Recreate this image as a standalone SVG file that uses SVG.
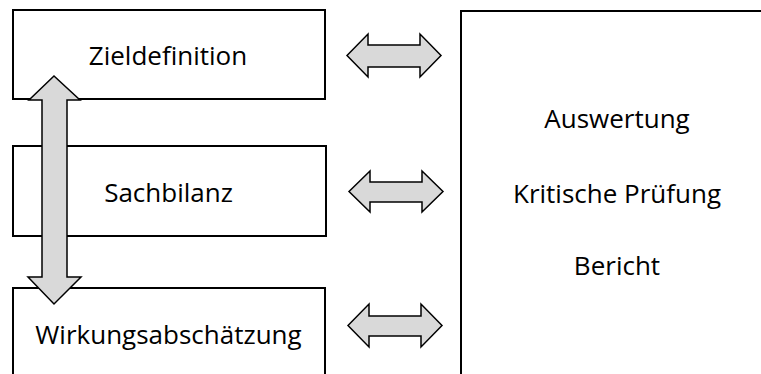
<svg xmlns="http://www.w3.org/2000/svg" width="761" height="374" viewBox="0 0 761 374">
  <style>
    .box { fill: #ffffff; stroke: #000000; stroke-width: 2; }
    .arrow { fill: #d9d9d9; stroke: #000000; stroke-width: 1.5; stroke-linejoin: miter; }
    .label { font-family: "Open Sans", "Noto Sans", sans-serif; font-size: 26px; fill: #000000; text-anchor: middle; }
  </style>
  <rect width="761" height="374" fill="#ffffff"/>

  <g id="zieldefinition">
    <rect class="box" x="13" y="10" width="312" height="89"/>
    <text class="label" x="168" y="65">Zieldefinition</text>
  </g>

  <g id="sachbilanz">
    <rect class="box" x="13" y="146" width="313" height="90"/>
    <text class="label" x="168.5" y="202">Sachbilanz</text>
  </g>

  <g id="wirkungsabschaetzung">
    <rect class="box" x="13" y="288" width="312" height="100"/>
    <text class="label" x="168.5" y="344">Wirkungsabschätzung</text>
  </g>

  <g id="auswertung">
    <path class="box" d="M461,385 V11 H770" fill="none"/>
    <text class="label" x="617" y="128">Auswertung</text>
    <text class="label" x="617" y="203">Kritische Prüfung</text>
    <text class="label" x="617" y="275">Bericht</text>
  </g>

  <g id="connectors">
    <!-- vertical double arrow linking the three phases on the left -->
    <path class="arrow" d="M54,76 L80,100 L67,100 L67,277 L81,277 L54,304 L28,277 L42,277 L42,100 L29,100 Z"/>
    <!-- horizontal double arrows towards the interpretation block -->
    <path class="arrow" d="M347,55.5 L368,34 L368,45 L420,45 L420,34 L441,55.5 L420,77 L420,67 L368,67 L368,77 Z"/>
    <path class="arrow" d="M349,191.5 L370,171 L370,182 L422,182 L422,171 L443,191.5 L422,212 L422,202 L370,202 L370,212 Z"/>
    <path class="arrow" d="M348,325.5 L369,304 L369,316 L421,316 L421,304 L442,325.5 L421,347 L421,336 L369,336 L369,347 Z"/>
  </g>
</svg>
